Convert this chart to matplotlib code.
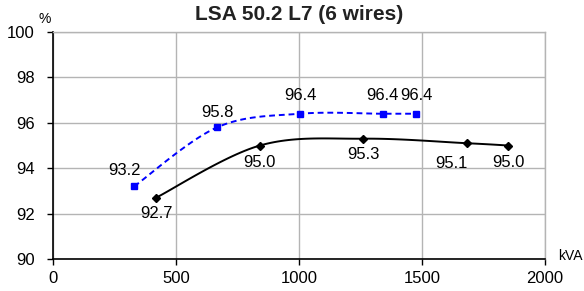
"""
LSA 50.2 L7 (6 wires) - efficiency vs kVA
"""
import numpy as np
import matplotlib
matplotlib.use('Agg')
import matplotlib.pyplot as plt

plt.rcParams['font.family'] = ['Liberation Sans', 'DejaVu Sans']

# data
blue_kva = [330, 667, 1004, 1341, 1476]
blue_eff = [93.2, 95.8, 96.4, 96.4, 96.4]
black_kva = [419, 841, 1262, 1683, 1850]
black_eff = [92.7, 95.0, 95.3, 95.1, 95.0]
xticks = [0, 500, 1000, 1500, 2000]
yticks = [90, 92, 94, 96, 98, 100]

# label offsets in pixels (dx, dy) from the point to label centre
blue_off = [(-10, 16), (0, 15), (0, 18), (0, 18), (0, 18)]
black_off = [(0, -16), (0, -17), (0, -16), (-16, -20), (0, -17)]


def smooth(xs, ys, n=30):
    # Excel-like smoothed line: Catmull-Rom bezier in normalized coords
    p = np.column_stack([np.asarray(xs) / 2000.0 * 2.0, (np.asarray(ys) - 90) / 10.0])
    out = []
    for i in range(len(p) - 1):
        p0 = p[i - 1] if i > 0 else p[i]
        p1, p2 = p[i], p[i + 1]
        p3 = p[i + 2] if i + 2 < len(p) else p[i + 1]
        c1 = p1 + (p2 - p0) / 6
        c2 = p2 - (p3 - p1) / 6
        t = np.linspace(0, 1, n)[:, None]
        seg = ((1 - t)**3 * p1 + 3 * (1 - t)**2 * t * c1
               + 3 * (1 - t) * t**2 * c2 + t**3 * p2)
        out.append(seg if i == 0 else seg[1:])
    out = np.vstack(out)
    return out[:, 0] * 1000.0, out[:, 1] * 10 + 90


fig = plt.figure(figsize=(5.84, 2.91), dpi=100)
ax = fig.add_axes([0.0908, 0.110, 0.8425, 0.780])

bx, by = smooth(blue_kva, blue_eff)
ax.plot(bx, by, color='#0000ff', ls=(0, (3, 2)), lw=1.4, zorder=3)
ax.plot(blue_kva, blue_eff, 's', color='#0000ff', ms=5, zorder=4)

kx, ky = smooth(black_kva, black_eff)
ax.plot(kx, ky, color='black', lw=1.4, zorder=3)
ax.plot(black_kva, black_eff, 'D', color='black', ms=4, zorder=4)

px = 0.72  # points per pixel at 100 dpi
for (x, y), (dx, dy) in zip(zip(blue_kva, blue_eff), blue_off):
    ax.annotate(f'{y:.1f}', (x, y), xytext=(dx * px, dy * px), textcoords='offset points',
                ha='center', va='center', fontsize=12)
for (x, y), (dx, dy) in zip(zip(black_kva, black_eff), black_off):
    ax.annotate(f'{y:.1f}', (x, y), xytext=(dx * px, dy * px), textcoords='offset points',
                ha='center', va='center', fontsize=12)

ax.set_xlim(0, 2000)
ax.set_ylim(90, 100)
ax.set_xticks(xticks)
ax.set_yticks(yticks)
ax.tick_params(labelsize=12, length=4, width=1, direction='out')
ax.tick_params(axis='y', pad=9)
ax.tick_params(axis='x', pad=5)
ax.grid(color='#b4b4b4', lw=1)
ax.set_axisbelow(True)
for s in ['top', 'right']:
    ax.spines[s].set_color('#b4b4b4')
    ax.spines[s].set_linewidth(1)
for s in ['left', 'bottom']:
    ax.spines[s].set_color('black')
    ax.spines[s].set_linewidth(1.2)

fig.text(299 / 584, 1 - 15 / 291, 'LSA 50.2 L7 (6 wires)', fontsize=15, fontweight='bold',
         ha='center', va='center', color='#222222')
fig.text(45 / 584, 1 - 19 / 291, '%', fontsize=10, ha='center', va='center')
fig.text(570 / 584, 1 - 256 / 291, 'kVA', fontsize=10, ha='center', va='center')

fig.savefig('out.png', dpi=100)
plt.close()
